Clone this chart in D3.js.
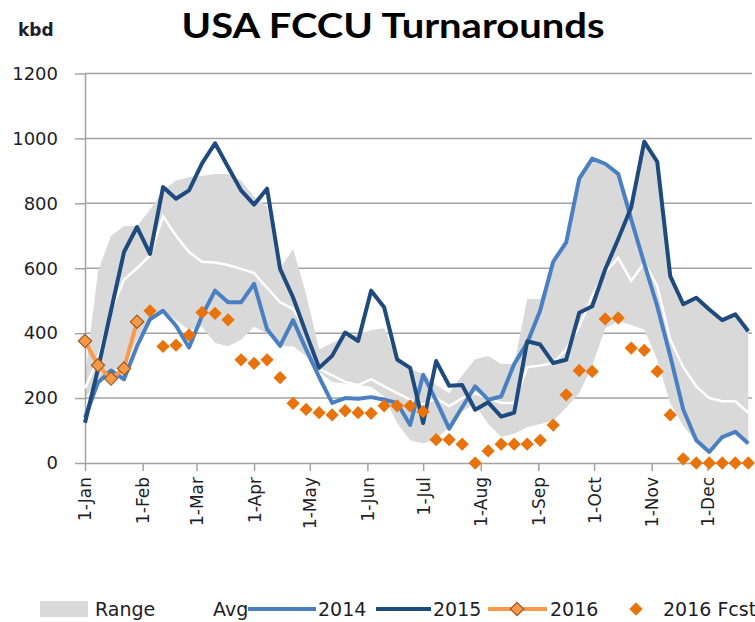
<!DOCTYPE html>
<html><head><meta charset="utf-8">
<script src="https://cdn.jsdelivr.net/npm/d3@7"></script>
<style>body{margin:0;background:#fff}svg{display:block}</style>
</head><body>
<svg id="chart" width="755" height="622"></svg>
<script>
const weeks = ["2016-01-01","2016-01-08","2016-01-15","2016-01-22","2016-01-29","2016-02-05","2016-02-12","2016-02-19","2016-02-26","2016-03-04","2016-03-11","2016-03-18","2016-03-25","2016-04-01","2016-04-08","2016-04-15","2016-04-22","2016-04-29","2016-05-06","2016-05-13","2016-05-20","2016-05-27","2016-06-03","2016-06-10","2016-06-17","2016-06-24","2016-07-01","2016-07-08","2016-07-15","2016-07-22","2016-07-29","2016-08-05","2016-08-12","2016-08-19","2016-08-26","2016-09-02","2016-09-09","2016-09-16","2016-09-23","2016-09-30","2016-10-07","2016-10-14","2016-10-21","2016-10-28","2016-11-04","2016-11-11","2016-11-18","2016-11-25","2016-12-02","2016-12-09","2016-12-16","2016-12-23"];
const rangeMin = [200,255,285,295,380,450,470,440,410,420,370,360,380,420,400,360,360,330,280,250,245,240,235,205,123,70,60,75,110,160,180,120,80,90,110,120,130,170,215,300,415,437,425,411,318,184,115,65,34,78,95,58];
const rangeMax = [265,590,700,730,730,780,840,870,880,885,890,890,870,820,790,600,660,520,350,370,390,395,410,415,320,290,275,240,215,270,320,330,305,305,505,505,620,680,876,938,922,891,790,990,928,576,489,509,473,440,458,406];
const avg = [230,320,470,565,600,640,760,700,650,620,618,610,598,585,540,495,475,410,290,270,250,240,258,236,215,195,180,200,175,200,215,200,185,185,295,300,308,350,420,515,587,632,561,618,545,380,295,236,200,190,190,155];
const s2014 = [140,248,285,258,360,443,469,423,356,454,531,495,495,552,412,361,440,350,265,185,200,198,203,195,185,117,272,192,106,172,236,195,205,305,370,470,620,680,876,938,922,891,750,615,483,330,165,70,34,80,96,60];
const s2015 = [124,290,470,650,727,644,850,814,840,923,985,912,840,796,845,598,510,400,293,330,402,376,531,480,319,293,123,314,238,240,164,187,143,155,375,365,308,318,463,483,597,690,788,990,928,576,489,509,473,440,458,406];
const s2016 = [376,301,260,291,435];
const fcst2016 = [null,null,null,null,null,469,359,363,394,464,461,441,318,307,318,263,184,165,155,148,161,155,153,176,176,176,158,72,72,58,0,37,58,58,58,70,117,210,285,282,444,447,354,347,282,148,13,0,0,0,0,0];
const monthTicks = ["2016-01-01","2016-02-01","2016-03-01","2016-04-01","2016-05-01","2016-06-01","2016-07-01","2016-08-01","2016-09-01","2016-10-01","2016-11-01","2016-12-01"];
const monthLabels = ["1-Jan","1-Feb","1-Mar","1-Apr","1-May","1-Jun","1-Jul","1-Aug","1-Sep","1-Oct","1-Nov","1-Dec"];
const yTicks = [0,200,400,600,800,1000,1200];

const svg = d3.select("#chart");
const font = "'DejaVu Sans', sans-serif";
const dates = weeks.map(d => new Date(d + "T00:00:00Z"));
const x = d3.scaleUtc().domain([new Date("2016-01-01T00:00:00Z"), new Date("2016-12-25T00:00:00Z")]).range([85, 752]);
const y = d3.scaleLinear().domain([0, 1200]).range([463, 73.5]);
const gridColor = "#a3a3a3";

// gridlines
svg.append("g").selectAll("line").data(yTicks.filter(v => v > 0)).join("line")
  .attr("x1", 85).attr("x2", 752).attr("y1", d => y(d)).attr("y2", d => y(d))
  .attr("stroke", gridColor).attr("stroke-width", 1.5);

// range area
const idx = d3.range(weeks.length);
svg.append("path").datum(idx)
  .attr("d", d3.area().x(i => x(dates[i])).y0(i => y(rangeMin[i])).y1(i => y(rangeMax[i])))
  .attr("fill", "#d9d9d9");

// y axis
const yAxis = svg.append("g").attr("transform", "translate(85,0)")
  .call(d3.axisLeft(y).tickValues(yTicks).tickFormat(d3.format("d")).tickSize(10).tickPadding(17).tickSizeOuter(0));
yAxis.select(".domain").attr("stroke", gridColor).attr("stroke-width", 1.5);
yAxis.selectAll(".tick line").attr("stroke", gridColor).attr("stroke-width", 1.5);
yAxis.selectAll("text").attr("font-family", font).attr("font-size", 18).attr("fill", "#1e1e28");

// x axis
const xAxis = svg.append("g").attr("transform", "translate(0,463)")
  .call(d3.axisBottom(x).tickValues(monthTicks.map(d => new Date(d + "T00:00:00Z")))
    .tickSize(8).tickSizeOuter(0).tickFormat((d, i) => monthLabels[i]));
xAxis.select(".domain").attr("stroke", gridColor).attr("stroke-width", 1.5);
xAxis.selectAll(".tick line").attr("stroke", gridColor).attr("stroke-width", 1.5);
xAxis.selectAll("text").attr("font-family", font).attr("font-size", 17).attr("fill", "#1e1e28")
  .attr("text-anchor", "end").attr("transform", "rotate(-90)")
  .attr("x", -14).attr("y", 0).attr("dy", "0.35em");

// lines
const line = arr => d3.line().defined(i => arr[i] != null).x(i => x(dates[i])).y(i => y(arr[i]));
svg.append("path").datum(idx).attr("d", line(avg)).attr("fill", "none").attr("stroke", "#ffffff").attr("stroke-width", 2.5);
svg.append("path").datum(idx).attr("d", line(s2014)).attr("fill", "none").attr("stroke", "#4a80c2").attr("stroke-width", 4).attr("stroke-linejoin", "round");
svg.append("path").datum(idx).attr("d", line(s2015)).attr("fill", "none").attr("stroke", "#1f4a7e").attr("stroke-width", 4).attr("stroke-linejoin", "round");
const idx16 = d3.range(s2016.length);
svg.append("path").datum(idx16).attr("d", line(s2016)).attr("fill", "none").attr("stroke", "#f89a4c").attr("stroke-width", 4).attr("stroke-linejoin", "round");

const diamond = d3.symbol(d3.symbolSquare, 88);
svg.append("g").selectAll("path").data(idx16).join("path")
  .attr("d", diamond)
  .attr("transform", i => `translate(${x(dates[i])},${y(s2016[i])}) rotate(45)`)
  .attr("fill", "#f7994a").attr("stroke", "#9e5a20").attr("stroke-width", 1.2);
svg.append("g").selectAll("path").data(idx.filter(i => fcst2016[i] != null)).join("path")
  .attr("d", diamond)
  .attr("transform", i => `translate(${x(dates[i])},${y(fcst2016[i])}) rotate(45)`)
  .attr("fill", "#e8720c");

// title
svg.append("text").attr("x", 393).attr("y", 38).attr("text-anchor", "middle")
  .attr("font-family", "Lato, 'DejaVu Sans', sans-serif").attr("font-weight", "bold").attr("font-size", 35)
  .attr("textLength", 423).attr("lengthAdjust", "spacingAndGlyphs")
  .attr("fill", "#000").text("USA FCCU Turnarounds");
svg.append("text").attr("x", 18).attr("y", 36)
  .attr("font-family", font).attr("font-weight", "bold").attr("font-size", 17)
  .attr("fill", "#1e1e28").text("kbd");

// legend
const lg = svg.append("g").attr("font-family", font).attr("font-size", 19).attr("fill", "#1e1e28");
const ly = 609, lt = 616;
lg.append("rect").attr("x", 40).attr("y", 601).attr("width", 48).attr("height", 16).attr("fill", "#d9d9d9");
lg.append("text").attr("x", 95).attr("y", lt).text("Range");
lg.append("line").attr("x1", 168).attr("x2", 208).attr("y1", ly).attr("y2", ly).attr("stroke", "#ffffff").attr("stroke-width", 3);
lg.append("text").attr("x", 213).attr("y", lt).text("Avg");
lg.append("line").attr("x1", 248).attr("x2", 316).attr("y1", ly).attr("y2", ly).attr("stroke", "#4a80c2").attr("stroke-width", 4);
lg.append("text").attr("x", 318).attr("y", lt).text("2014");
lg.append("line").attr("x1", 376).attr("x2", 431).attr("y1", ly).attr("y2", ly).attr("stroke", "#1f4a7e").attr("stroke-width", 4);
lg.append("text").attr("x", 433).attr("y", lt).text("2015");
lg.append("line").attr("x1", 488).attr("x2", 547).attr("y1", ly).attr("y2", ly).attr("stroke", "#f89a4c").attr("stroke-width", 4);
lg.append("path").attr("d", diamond).attr("transform", `translate(517,${ly}) rotate(45)`)
  .attr("fill", "#f7994a").attr("stroke", "#9e5a20").attr("stroke-width", 1.2);
lg.append("text").attr("x", 550).attr("y", lt).text("2016");
lg.append("path").attr("d", diamond).attr("transform", `translate(636,${ly}) rotate(45)`).attr("fill", "#e8720c");
lg.append("text").attr("x", 663).attr("y", lt).text("2016 Fcst");
</script>
</body></html>
